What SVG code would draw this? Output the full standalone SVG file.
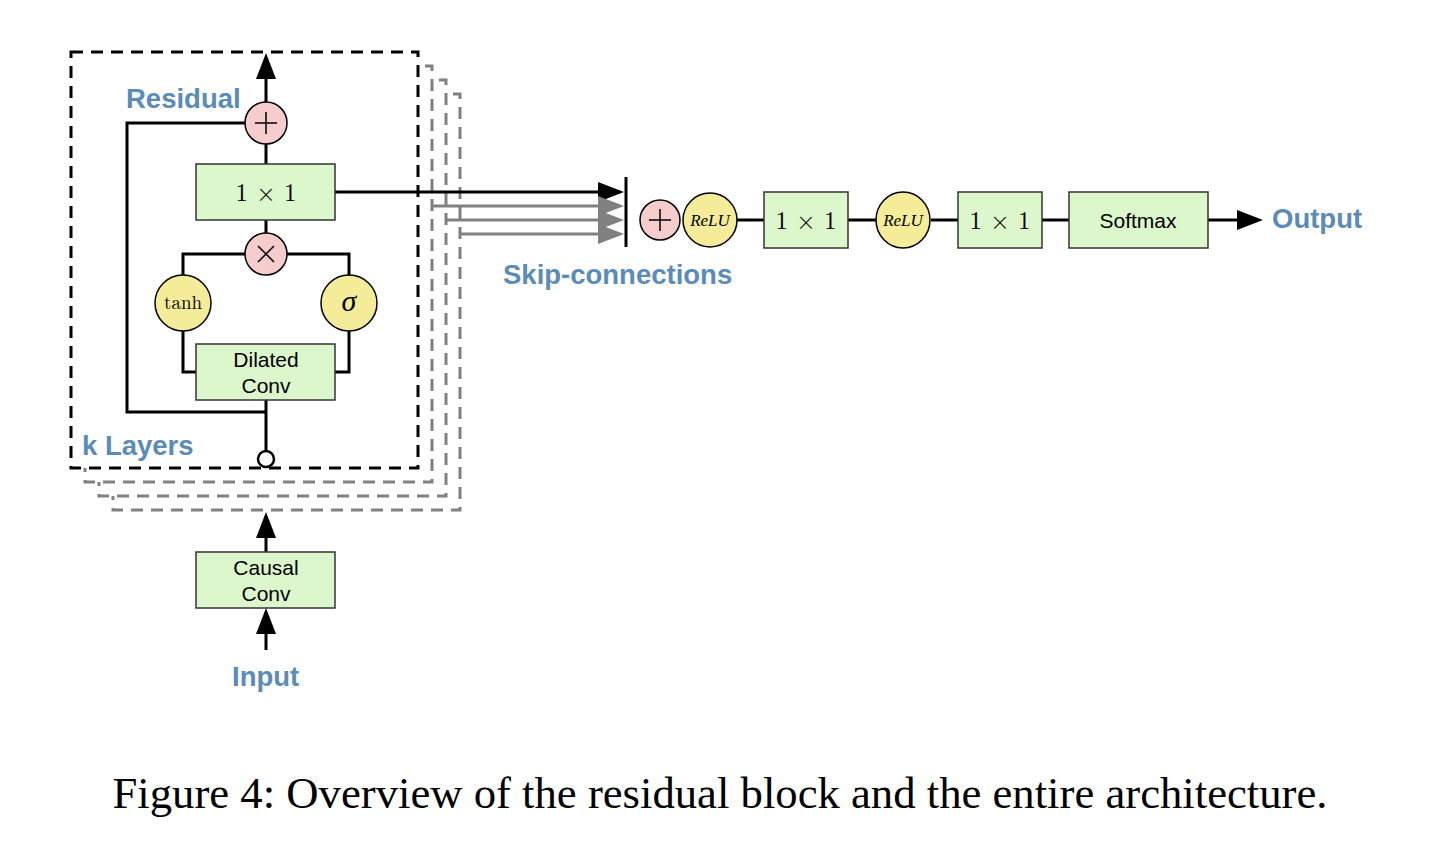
<svg xmlns="http://www.w3.org/2000/svg" width="1440" height="848" viewBox="0 0 1440 848">
<style>
.frame{fill:#fff;stroke:#000;stroke-width:3;stroke-dasharray:12 8}
.frameg{fill:#fff;stroke:#808080;stroke-width:3;stroke-dasharray:12 8}
.box{fill:#ddf7cd;stroke:#333;stroke-width:1.5}
.pink{fill:#f7cccc;stroke:#000;stroke-width:1.5}
.yel{fill:#f5ec99;stroke:#000;stroke-width:1.5}
.ln{fill:none;stroke:#000;stroke-width:3}
.lg{fill:none;stroke:#808080;stroke-width:3}
.lbl{font-family:"Liberation Sans",Arial,sans-serif;font-weight:bold;font-size:27.5px;fill:#5b8bb7}
.sans{font-family:"Liberation Sans",Arial,sans-serif;font-size:21px;fill:#000;text-anchor:middle}
.serif{font-family:"Latin Modern Roman","DejaVu Serif","Liberation Serif",serif;fill:#000;text-anchor:middle}
.it{font-family:"Liberation Serif",serif;font-style:italic;fill:#000;text-anchor:middle}
</style>
<g id="stack">
<rect class="frameg" x="113" y="94" width="347" height="416"/>
<rect class="frameg" x="99" y="80" width="347" height="416"/>
<rect class="frameg" x="85" y="66" width="347" height="416"/>
<rect class="frame" x="71" y="52" width="347" height="416"/>
</g>
<g id="connectors">
<path class="ln" d="M266,102V79"/>
<path d="M266,53L276,79H256z" fill="#000"/>
<path class="ln" d="M266,144V164"/>
<path class="ln" d="M245,123H127V412H266"/>
<path class="ln" d="M266,220V233"/>
<path class="ln" d="M245,254H183V275"/>
<path class="ln" d="M287,254H349V275"/>
<path class="ln" d="M183,331V372H196"/>
<path class="ln" d="M349,331V372H335"/>
<path class="ln" d="M266,400V451"/>
<path class="ln" d="M335,192H600"/>
<path d="M624,192L598,182V202z" fill="#000"/>
<path class="lg" d="M431,206H600"/>
<path class="lg" d="M445,220H600"/>
<path class="lg" d="M459,234H600"/>
<path d="M624,206L598,196V216z" fill="#808080"/>
<path d="M624,220L598,210V230z" fill="#808080"/>
<path d="M624,234L598,224V244z" fill="#808080"/>
<path d="M626,177V247" stroke="#000" stroke-width="3"/>
<path class="ln" d="M737,220H764"/>
<path class="ln" d="M848,220H876"/>
<path class="ln" d="M931,220H958"/>
<path class="ln" d="M1042,220H1069"/>
<path class="ln" d="M1208,220H1240"/>
<path d="M1263,220L1237,210V230z" fill="#000"/>
<path class="ln" d="M266,552V537"/>
<path d="M266,512L276,538H256z" fill="#000"/>
<path class="ln" d="M266,650V633"/>
<path d="M266,608L276,634H256z" fill="#000"/>
</g>
<g id="add1"><circle class="pink" cx="266" cy="123" r="21"/><path d="M255,123H277M266,112V134" stroke="#000" stroke-width="1.5"/></g>
<g id="conv1x1a"><rect class="box" x="196" y="164" width="139" height="56"/><text class="serif" x="266" y="201" font-size="25">1 × 1</text></g>
<g id="mul"><circle class="pink" cx="266" cy="254" r="21"/><path d="M258,246L274,262M274,246L258,262" stroke="#000" stroke-width="1.5"/></g>
<g id="tanh"><circle class="yel" cx="183" cy="303" r="28"/><text class="serif" x="183" y="309" font-size="19">tanh</text></g>
<g id="sigma"><circle class="yel" cx="349" cy="303" r="28"/><text class="it" x="349" y="311" font-size="30">σ</text></g>
<g id="dilated"><rect class="box" x="196" y="344" width="139" height="56"/><text class="sans" x="266" y="367">Dilated</text><text class="sans" x="266" y="393">Conv</text></g>
<g id="inport"><circle cx="266" cy="459" r="8" fill="#fff" stroke="#000" stroke-width="2.5"/></g>
<g id="labels">
<text class="lbl" x="126" y="108">Residual</text>
<text class="lbl" x="82" y="455">k Layers</text>
<text class="lbl" x="503" y="284">Skip-connections</text>
<text class="lbl" x="1272" y="228">Output</text>
<text class="lbl" x="232" y="686">Input</text>
</g>
<g id="add2"><circle class="pink" cx="660" cy="220" r="20"/><path d="M649,220H671M660,209V231" stroke="#000" stroke-width="1.5"/></g>
<g id="relu1"><circle class="yel" cx="710" cy="220" r="27"/><text class="it" x="710" y="226" font-size="17">ReLU</text></g>
<g id="conv1x1b"><rect class="box" x="764" y="192" width="84" height="56"/><text class="serif" x="806" y="229" font-size="25">1 × 1</text></g>
<g id="relu2"><ellipse class="yel" cx="903" cy="220" rx="27" ry="28"/><text class="it" x="903" y="226" font-size="17">ReLU</text></g>
<g id="conv1x1c"><rect class="box" x="958" y="192" width="84" height="56"/><text class="serif" x="1000" y="229" font-size="25">1 × 1</text></g>
<g id="softmax"><rect class="box" x="1069" y="192" width="139" height="56"/><text class="sans" x="1138" y="228" font-size="22">Softmax</text></g>
<g id="causal"><rect class="box" x="196" y="552" width="139" height="56"/><text class="sans" x="266" y="575">Causal</text><text class="sans" x="266" y="601">Conv</text></g>
<text x="720" y="808" text-anchor="middle" font-family="Liberation Serif,'Times New Roman',serif" font-size="44" textLength="1215" lengthAdjust="spacingAndGlyphs" fill="#000">Figure 4: Overview of the residual block and the entire architecture.</text>
</svg>
